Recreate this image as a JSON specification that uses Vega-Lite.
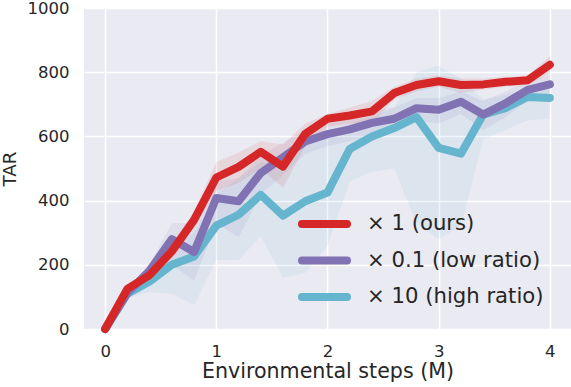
{
  "$schema": "https://vega.github.io/schema/vega-lite/v6.json",
  "width": 487,
  "height": 321,
  "autosize": {"type": "none"},
  "padding": {"left": 84, "top": 8, "right": 0, "bottom": 58},
  "background": "white",
  "config": {
    "font": "DejaVu Sans",
    "view": {"fill": "#EAEAF2", "stroke": null},
    "axis": {
      "domain": false,
      "ticks": false,
      "grid": true,
      "gridColor": "white",
      "gridWidth": 1.5,
      "labelFont": "DejaVu Sans",
      "labelFontSize": 16.5,
      "labelColor": "#262626",
      "titleFont": "DejaVu Sans",
      "titleFontWeight": "normal",
      "titleColor": "#262626"
    }
  },
  "data": {
    "values": [
      {"x": 0, "s": "× 10 (high ratio)", "y": 0, "lo": 0, "hi": 0},
      {"x": 0.2, "s": "× 10 (high ratio)", "y": 110, "lo": 95, "hi": 125},
      {"x": 0.4, "s": "× 10 (high ratio)", "y": 148, "lo": 115, "hi": 175},
      {"x": 0.6, "s": "× 10 (high ratio)", "y": 200, "lo": 110, "hi": 260},
      {"x": 0.8, "s": "× 10 (high ratio)", "y": 226, "lo": 75, "hi": 300},
      {"x": 1.0, "s": "× 10 (high ratio)", "y": 322, "lo": 215, "hi": 420},
      {"x": 1.2, "s": "× 10 (high ratio)", "y": 356, "lo": 215, "hi": 470},
      {"x": 1.4, "s": "× 10 (high ratio)", "y": 418, "lo": 290, "hi": 520},
      {"x": 1.6, "s": "× 10 (high ratio)", "y": 353, "lo": 160, "hi": 520},
      {"x": 1.8, "s": "× 10 (high ratio)", "y": 398, "lo": 175, "hi": 580},
      {"x": 2.0, "s": "× 10 (high ratio)", "y": 425, "lo": 260, "hi": 600},
      {"x": 2.2, "s": "× 10 (high ratio)", "y": 561, "lo": 460, "hi": 640},
      {"x": 2.4, "s": "× 10 (high ratio)", "y": 600, "lo": 490, "hi": 660},
      {"x": 2.6, "s": "× 10 (high ratio)", "y": 626, "lo": 500, "hi": 690},
      {"x": 2.8, "s": "× 10 (high ratio)", "y": 660, "lo": 330, "hi": 800},
      {"x": 3.0, "s": "× 10 (high ratio)", "y": 564, "lo": 280, "hi": 820},
      {"x": 3.2, "s": "× 10 (high ratio)", "y": 546, "lo": 320, "hi": 780},
      {"x": 3.4, "s": "× 10 (high ratio)", "y": 668, "lo": 590, "hi": 715},
      {"x": 3.6, "s": "× 10 (high ratio)", "y": 688, "lo": 620, "hi": 730},
      {"x": 3.8, "s": "× 10 (high ratio)", "y": 723, "lo": 650, "hi": 745},
      {"x": 4.0, "s": "× 10 (high ratio)", "y": 720, "lo": 655, "hi": 745},
      {"x": 0, "s": "× 0.1 (low ratio)", "y": 0, "lo": 0, "hi": 0},
      {"x": 0.2, "s": "× 0.1 (low ratio)", "y": 112, "lo": 100, "hi": 125},
      {"x": 0.4, "s": "× 0.1 (low ratio)", "y": 182, "lo": 160, "hi": 200},
      {"x": 0.6, "s": "× 0.1 (low ratio)", "y": 280, "lo": 200, "hi": 330},
      {"x": 0.8, "s": "× 0.1 (low ratio)", "y": 240, "lo": 150, "hi": 330},
      {"x": 1.0, "s": "× 0.1 (low ratio)", "y": 408, "lo": 330, "hi": 460},
      {"x": 1.2, "s": "× 0.1 (low ratio)", "y": 398, "lo": 285, "hi": 470},
      {"x": 1.4, "s": "× 0.1 (low ratio)", "y": 486, "lo": 420, "hi": 540},
      {"x": 1.6, "s": "× 0.1 (low ratio)", "y": 535, "lo": 480, "hi": 580},
      {"x": 1.8, "s": "× 0.1 (low ratio)", "y": 584, "lo": 545, "hi": 620},
      {"x": 2.0, "s": "× 0.1 (low ratio)", "y": 607, "lo": 570, "hi": 640},
      {"x": 2.2, "s": "× 0.1 (low ratio)", "y": 622, "lo": 585, "hi": 655},
      {"x": 2.4, "s": "× 0.1 (low ratio)", "y": 642, "lo": 600, "hi": 680},
      {"x": 2.6, "s": "× 0.1 (low ratio)", "y": 655, "lo": 615, "hi": 690},
      {"x": 2.8, "s": "× 0.1 (low ratio)", "y": 688, "lo": 650, "hi": 720},
      {"x": 3.0, "s": "× 0.1 (low ratio)", "y": 683, "lo": 640, "hi": 720},
      {"x": 3.2, "s": "× 0.1 (low ratio)", "y": 708, "lo": 670, "hi": 740},
      {"x": 3.4, "s": "× 0.1 (low ratio)", "y": 668, "lo": 620, "hi": 710},
      {"x": 3.6, "s": "× 0.1 (low ratio)", "y": 703, "lo": 660, "hi": 740},
      {"x": 3.8, "s": "× 0.1 (low ratio)", "y": 745, "lo": 710, "hi": 775},
      {"x": 4.0, "s": "× 0.1 (low ratio)", "y": 762, "lo": 735, "hi": 790},
      {"x": 0, "s": "× 1 (ours)", "y": 0, "lo": 0, "hi": 0},
      {"x": 0.2, "s": "× 1 (ours)", "y": 125, "lo": 112, "hi": 138},
      {"x": 0.4, "s": "× 1 (ours)", "y": 168, "lo": 150, "hi": 185},
      {"x": 0.6, "s": "× 1 (ours)", "y": 242, "lo": 220, "hi": 265},
      {"x": 0.8, "s": "× 1 (ours)", "y": 340, "lo": 315, "hi": 365},
      {"x": 1.0, "s": "× 1 (ours)", "y": 472, "lo": 430, "hi": 520},
      {"x": 1.2, "s": "× 1 (ours)", "y": 505, "lo": 455, "hi": 550},
      {"x": 1.4, "s": "× 1 (ours)", "y": 552, "lo": 500, "hi": 585},
      {"x": 1.6, "s": "× 1 (ours)", "y": 506, "lo": 440, "hi": 575},
      {"x": 1.8, "s": "× 1 (ours)", "y": 608, "lo": 570, "hi": 640},
      {"x": 2.0, "s": "× 1 (ours)", "y": 655, "lo": 630, "hi": 670},
      {"x": 2.2, "s": "× 1 (ours)", "y": 665, "lo": 640, "hi": 690},
      {"x": 2.4, "s": "× 1 (ours)", "y": 678, "lo": 640, "hi": 710},
      {"x": 2.6, "s": "× 1 (ours)", "y": 735, "lo": 715, "hi": 755},
      {"x": 2.8, "s": "× 1 (ours)", "y": 760, "lo": 740, "hi": 780},
      {"x": 3.0, "s": "× 1 (ours)", "y": 772, "lo": 755, "hi": 790},
      {"x": 3.2, "s": "× 1 (ours)", "y": 760, "lo": 735, "hi": 780},
      {"x": 3.4, "s": "× 1 (ours)", "y": 762, "lo": 745, "hi": 780},
      {"x": 3.6, "s": "× 1 (ours)", "y": 770, "lo": 755, "hi": 785},
      {"x": 3.8, "s": "× 1 (ours)", "y": 775, "lo": 760, "hi": 790},
      {"x": 4.0, "s": "× 1 (ours)", "y": 823, "lo": 795, "hi": 850}
    ]
  },
  "encoding": {
    "x": {
      "field": "x",
      "type": "quantitative",
      "scale": {"domain": [-0.19, 4.19], "nice": false, "zero": false},
      "axis": {
        "values": [0, 1, 2, 3, 4],
        "format": "d",
        "labelPadding": 14,
        "title": "Environmental steps (M)",
        "titleFontSize": 20.6,
        "titlePadding": 2
      }
    },
    "y": {
      "field": "y",
      "type": "quantitative",
      "scale": {"domain": [0, 1000], "nice": false},
      "axis": {
        "values": [0, 200, 400, 600, 800, 1000],
        "format": "d",
        "labelPadding": 15,
        "title": "TAR",
        "titleFontSize": 18.3,
        "titlePadding": 8
      }
    },
    "color": {
      "field": "s",
      "type": "nominal",
      "scale": {
        "domain": ["× 1 (ours)", "× 0.1 (low ratio)", "× 10 (high ratio)"],
        "range": ["#D62728", "#8172B3", "#64B5CD"]
      }
    }
  },
  "layer": [
    {
      "mark": {"type": "area", "opacity": 0.1},
      "encoding": {
        "y": {"field": "lo", "type": "quantitative"},
        "y2": {"field": "hi"}
      }
    },
    {
      "mark": {"type": "line", "strokeWidth": 8, "strokeCap": "round", "strokeJoin": "round"},
      "encoding": {
        "color": {
          "field": "s",
          "type": "nominal",
          "scale": {
            "domain": ["× 1 (ours)", "× 0.1 (low ratio)", "× 10 (high ratio)"],
            "range": ["#D62728", "#8172B3", "#64B5CD"]
          },
          "legend": {
            "orient": "none",
            "legendX": 229,
            "legendY": 204.5,
            "title": null,
            "padding": 0,
            "symbolType": "M-3,0H3",
            "symbolSize": 225,
            "symbolStrokeWidth": 8,
            "symbolOpacity": 1,
            "labelOffset": 31,
            "rowPadding": 3.5,
            "labelFont": "DejaVu Sans",
            "labelFontSize": 21.2,
            "labelColor": "#262626",
            "labelLimit": 300,
            "encode": {"symbols": {"update": {"strokeCap": {"value": "round"}}}}
          }
        }
      }
    }
  ]
}
